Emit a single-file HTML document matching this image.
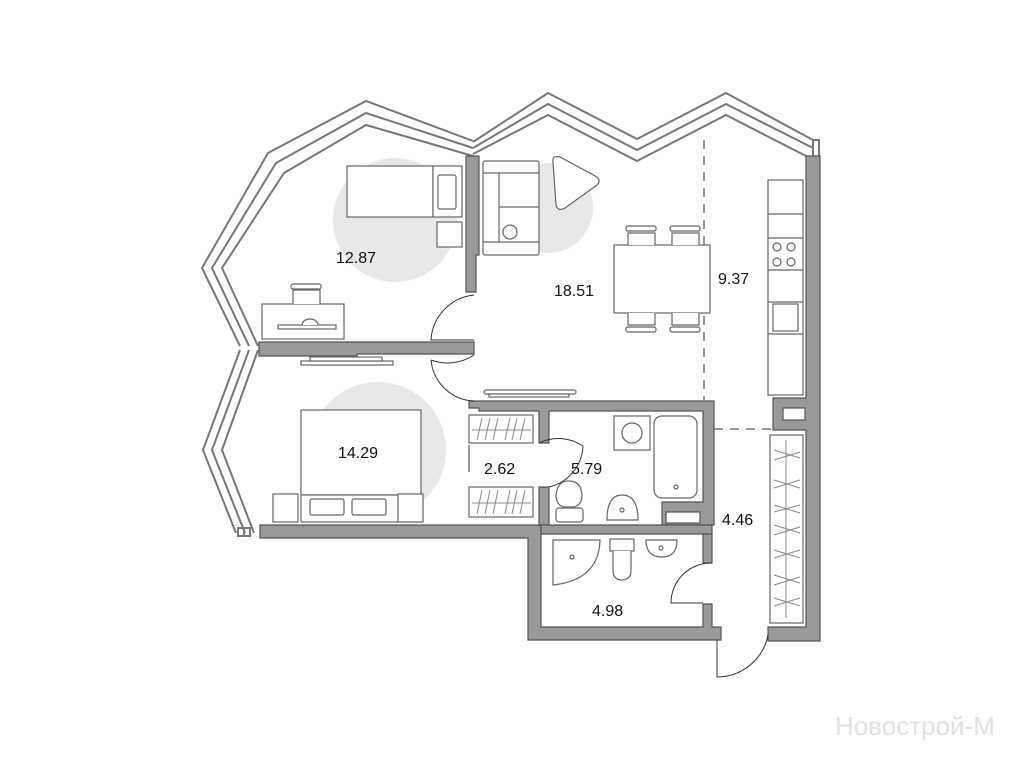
<!DOCTYPE html>
<html><head><meta charset="utf-8"><style>
html,body{margin:0;padding:0;background:#fff;}
svg{display:block;}
text{font-family:"Liberation Sans",sans-serif;font-size:16px;fill:#111;}
</style></head><body>
<svg width="1024" height="768" viewBox="0 0 1024 768" xmlns="http://www.w3.org/2000/svg">
<g fill="#e8e8e8">
<circle cx="395" cy="220" r="62"/>
<circle cx="548" cy="208" r="45"/>
<circle cx="378" cy="450" r="68"/>
</g>
<g fill="none" stroke="#777" stroke-width="2">
<polyline points="473,141 366,101 268,153 202,268 240,346"/>
<polyline points="473,148 366,113 276,163 212,268 249,346"/>
<polyline points="473,156 366,125 284,173 222,268 258,346"/>
<polyline points="240,350 203,450 236,533"/>
<polyline points="249,350 212,450 245,533"/>
<polyline points="258,350 222,450 254,533"/>
<polyline points="473,142 548,93 637,139 726,93 813,140"/>
<polyline points="473,148 548,104 637,150 726,104 813,148"/>
<polyline points="473,154 548,115 637,161 726,115 808,157"/>
<rect x="813" y="140" width="6" height="17"/>
<rect x="238" y="528" width="6" height="8"/><rect x="244" y="528" width="6" height="8"/>
</g>
<g fill="#9a9a9a" stroke="#555" stroke-width="1.2">
<path d="M466,156 H479 V255 H476 V292 H466 Z"/>
<path d="M259,342 H474 V354 H357 V356 H259 Z"/>
<path d="M806,156 H820 V641 H768 V627 H806 V430 H773 V398 H806 Z"/>
<path d="M260,525 H541 V627 H703 V604 H712 V627 H721 V640 H528 V538 H260 Z"/>
<path d="M469,401 H714 V525 H662 V502 H703 V411 H549 V443 H539 V411 H479 V408 H469 Z"/>
<path d="M539,487 H549 V525 H539 Z"/>
<path d="M541,525 H712 V534 H541 Z"/>
<path d="M703,534 H712 V563 H703 Z"/>
</g>
<g fill="#fff" stroke="#555" stroke-width="1.2">
<rect x="783" y="408" width="22" height="12"/>
<rect x="666" y="512" width="34" height="11"/>
</g>
<g fill="none" stroke="#333" stroke-width="1">
<path d="M474,295 A48,48 0 0 0 431,340 H474"/>
<path d="M474,355 A48,48 0 0 1 431,360 M431,360 A45,45 0 0 0 474,401"/>
<path d="M539,443 A44,44 0 0 1 583,446 M583,446 A44,44 0 0 1 549,487"/>
<path d="M712,563 A40,40 0 0 0 671,603 H703"/>
<path d="M717,640 V677 A52,52 0 0 0 768,635"/>
<line x1="469" y1="445" x2="469" y2="472"/>
</g>
<g stroke="#777" stroke-width="1.5" stroke-dasharray="9,7" fill="none">
<line x1="704" y1="140" x2="704" y2="400"/>
<line x1="714" y1="429" x2="772" y2="429"/>
</g>
<g fill="#fff" stroke="#666" stroke-width="1.2">
<rect x="347" y="166" width="86" height="51"/>
<rect x="433" y="166" width="29" height="51"/>
<rect x="438" y="175" width="18" height="34" rx="2"/>
<rect x="437" y="222" width="25" height="25"/>
<rect x="262" y="304" width="82" height="35"/>
<path d="M293,304 V290 H320 V304"/>
<rect x="291" y="284" width="30" height="5" rx="2"/>
<rect x="278" y="325" width="58" height="4"/>
<path d="M302,325 A8,6 0 0 1 318,325"/>
<rect x="301" y="361" width="92" height="4"/>
<rect x="310" y="357" width="72" height="4"/>
<rect x="483" y="161" width="56" height="94" rx="2"/>
<path d="M483,173 H539 M499,173 V242 M499,207 H539 M483,242 H539"/>
<circle cx="510" cy="232" r="7"/>
<path d="M553,162 Q552,155 560,157 L597,177 Q601,181 597,185 L565,208 Q558,212 556,205 Z"/>
<rect x="614" y="245" width="96" height="68"/>
<path d="M628,245 V233 H655 V245 M672,245 V233 H699 V245 M628,313 V325 H655 V313 M672,313 V325 H699 V313"/>
<rect x="626" y="226" width="30" height="5" rx="2"/><rect x="670" y="226" width="30" height="5" rx="2"/>
<rect x="626" y="327" width="30" height="5" rx="2"/><rect x="670" y="327" width="30" height="5" rx="2"/>
<rect x="768" y="180" width="35" height="215"/>
<path d="M768,214 H803 M768,238 H803 M768,270 H803 M768,302 H803 M768,334 H803"/>
<circle cx="777" cy="247" r="4"/><circle cx="791" cy="247" r="4"/>
<circle cx="777" cy="262" r="4"/><circle cx="791" cy="262" r="4"/>
<rect x="773" y="304" width="25" height="27"/>
<rect x="484" y="390" width="92" height="4" rx="2"/>
<rect x="489" y="394" width="80" height="3"/>
<rect x="301" y="410" width="120" height="85"/>
<rect x="301" y="495" width="120" height="27"/>
<rect x="310" y="499" width="34" height="16" rx="2"/><rect x="352" y="499" width="34" height="16" rx="2"/>
<rect x="273" y="494" width="25" height="28"/><rect x="398" y="494" width="25" height="28"/>
<rect x="469" y="415" width="64" height="28"/>
<rect x="469" y="487" width="64" height="30"/>
<rect x="654" y="416" width="43" height="82" rx="8"/>
<circle cx="676" cy="487" r="2"/>
<rect x="614" y="416" width="36" height="34"/>
<circle cx="632" cy="433" r="10"/>
<path d="M556,495 Q558,480 569,481 Q581,481 582,495 Q582,505 574,507 H563 Q556,504 556,495 Z"/>
<rect x="556" y="508" width="27" height="14" rx="3"/>
<path d="M607,520 Q607,495 622,495 Q638,495 638,520 Z"/><circle cx="622" cy="510" r="2"/>
<path d="M553,540 H600 Q599,580 553,585 Z"/><circle cx="572" cy="557" r="2"/>
<rect x="610" y="539" width="24" height="12"/>
<path d="M613,551 V570 Q613,580 622,580 Q631,580 631,570 V551"/>
<path d="M646,540 H677 Q677,557 662,557 Q646,557 646,540 Z"/><circle cx="661" cy="548" r="2"/>
<rect x="770" y="435" width="33" height="188"/>
</g>
<g stroke="#888" stroke-width="1" fill="none">
<path d="M477,440 L482,418 M485,440 L490,418 M493,440 L498,418 M505,440 L510,418 M512,440 L517,418 M520,440 L525,418 M472,430 H531"/>
<path d="M477,514 L482,490 M485,514 L490,490 M493,514 L498,490 M505,514 L510,490 M512,514 L517,490 M520,514 L525,490 M472,503 H531"/>
<path d="M786,440 V618 M774,450 L800,458 M774,460 L800,452 M774,480 L800,488 M774,488 L800,480 M774,505 L800,513 M774,512 L800,505 M774,525 L800,533 M774,535 L800,527 M774,550 L800,558 M774,558 L800,550 M774,575 L800,583 M774,585 L800,577 M774,598 L800,606 M774,606 L800,598"/>
</g>
<text x="336" y="263">12.87</text>
<text x="554" y="296">18.51</text>
<text x="718" y="284">9.37</text>
<text x="338" y="458">14.29</text>
<text x="484" y="474">2.62</text>
<text x="571" y="474">5.79</text>
<text x="722" y="525">4.46</text>
<text x="592" y="616">4.98</text>
<text x="835" y="735" style="font-size:26px;fill:#e2e2e2">Новострой-М</text>
</svg>
</body></html>
